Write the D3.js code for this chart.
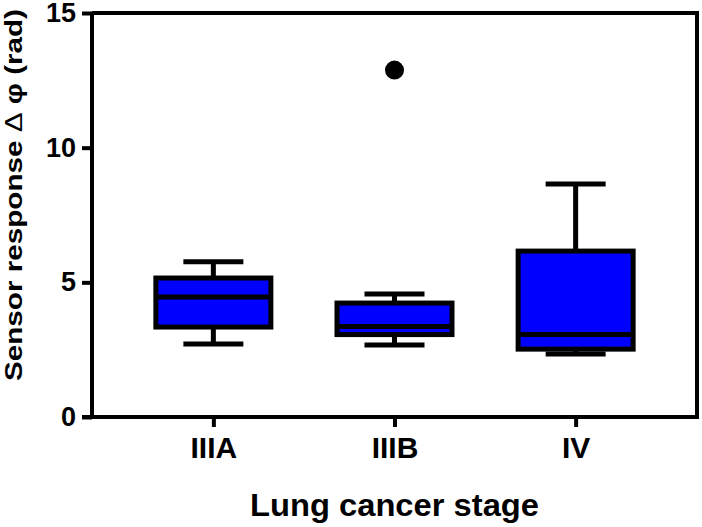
<!DOCTYPE html>
<html>
<head>
<meta charset="utf-8">
<script src="https://cdn.jsdelivr.net/npm/d3@7"></script>
<style>
  html, body { margin: 0; padding: 0; background: #fff; }
  text { font-family: "Liberation Sans", Arial, sans-serif; font-weight: bold; fill: #000; }
</style>
</head>
<body>
<div id="wrapper"></div>
<script>
'use strict';

//#region DATASET
const stages = ['IIIA', 'IIIB', 'IV'];
const whiskerLow = [2.71, 2.67, 2.34];
const quartile1 = [3.34, 3.06, 2.52];
const medians = [4.46, 3.36, 3.06];
const quartile3 = [5.16, 4.23, 6.16];
const whiskerHigh = [5.76, 4.57, 8.65];
const outlierStages = ['IIIB'];
const outlierValues = [12.88];
const yTicks = [0, 5, 10, 15];

const boxes = stages.map((s, i) => ({
  stage: s,
  low: whiskerLow[i],
  q1: quartile1[i],
  median: medians[i],
  q3: quartile3[i],
  high: whiskerHigh[i]
}));
const outliers = outlierStages.map((s, i) => ({ stage: s, value: outlierValues[i] }));
//#endregion DATASET

//#region CHART DIMENSIONS
const dimensions = {
  width: 702,
  height: 527,
  margin: { top: 13, right: 5, bottom: 110, left: 92 }
};
dimensions.plotWidth = dimensions.width - dimensions.margin.left - dimensions.margin.right;
dimensions.plotHeight = dimensions.height - dimensions.margin.top - dimensions.margin.bottom;
//#endregion CHART DIMENSIONS

//#region DRAW CANVAS
const wrapper = d3.select('#wrapper').append('svg')
  .attr('width', dimensions.width)
  .attr('height', dimensions.height);

const plot = wrapper.append('g')
  .attr('transform', `translate(${dimensions.margin.left}, ${dimensions.margin.top})`);
//#endregion DRAW CANVAS

//#region CREATE SCALES
const xScale = d3.scalePoint()
  .domain(stages)
  .range([0, dimensions.plotWidth])
  .padding(0.67);

const yScale = d3.scaleLinear()
  .domain([0, 15])
  .range([dimensions.plotHeight, 0]);
//#endregion CREATE SCALES

//#region DRAW DATA
const boxWidth = 115;
const capWidth = 60;
const strokeW = 5;

const boxGroups = plot.append('g').selectAll('g').data(boxes)
  .enter()
  .append('g')
  .attr('transform', d => `translate(${xScale(d.stage)}, 0)`);

boxGroups.append('line')
  .attr('x1', 0).attr('x2', 0)
  .attr('y1', d => yScale(d.low))
  .attr('y2', d => yScale(d.high))
  .attr('stroke', '#000')
  .attr('stroke-width', strokeW);

boxGroups.append('line')
  .attr('x1', -capWidth / 2).attr('x2', capWidth / 2)
  .attr('y1', d => yScale(d.high))
  .attr('y2', d => yScale(d.high))
  .attr('stroke', '#000')
  .attr('stroke-width', strokeW);

boxGroups.append('line')
  .attr('x1', -capWidth / 2).attr('x2', capWidth / 2)
  .attr('y1', d => yScale(d.low))
  .attr('y2', d => yScale(d.low))
  .attr('stroke', '#000')
  .attr('stroke-width', strokeW);

boxGroups.append('rect')
  .attr('x', -boxWidth / 2)
  .attr('width', boxWidth)
  .attr('y', d => yScale(d.q3))
  .attr('height', d => yScale(d.q1) - yScale(d.q3))
  .attr('fill', '#0000ff')
  .attr('stroke', '#000')
  .attr('stroke-width', strokeW);

boxGroups.append('line')
  .attr('x1', -boxWidth / 2).attr('x2', boxWidth / 2)
  .attr('y1', d => yScale(d.median))
  .attr('y2', d => yScale(d.median))
  .attr('stroke', '#000')
  .attr('stroke-width', strokeW);

plot.append('g').selectAll('circle').data(outliers)
  .enter()
  .append('circle')
  .attr('cx', d => xScale(d.stage))
  .attr('cy', d => yScale(d.value))
  .attr('r', 9.5)
  .attr('fill', '#000');
//#endregion DRAW DATA

//#region DRAW PERIPHERALS
const axisW = 4;

// frame top / right
plot.append('path')
  .attr('d', `M0,0H${dimensions.plotWidth}V${dimensions.plotHeight}`)
  .attr('fill', 'none')
  .attr('stroke', '#000')
  .attr('stroke-width', axisW);

const yAxis = plot.append('g')
  .call(d3.axisLeft(yScale).tickValues(yTicks).tickSize(10).tickPadding(6).tickSizeOuter(0));

const xAxis = plot.append('g')
  .attr('transform', `translate(0, ${dimensions.plotHeight})`)
  .call(d3.axisBottom(xScale).tickSize(10).tickPadding(10).tickSizeOuter(0));

[xAxis, yAxis].forEach(ax => {
  ax.select('.domain').attr('stroke-width', axisW);
  ax.selectAll('.tick line').attr('stroke-width', axisW);
});
yAxis.selectAll('text').style('font-size', '27px');
xAxis.selectAll('text').style('font-size', '30px');
yAxis.select('.domain').attr('d', `M0,${dimensions.plotHeight + axisW / 2}V0`);
xAxis.select('.domain').attr('d', `M${-10},0H${dimensions.plotWidth + axisW / 2}`);

const yLabel = wrapper.append('text')
  .attr('transform', `translate(22, 195) rotate(-90)`)
  .attr('text-anchor', 'middle')
  .attr('textLength', 372)
  .attr('lengthAdjust', 'spacingAndGlyphs')
  .style('font-size', '23px');
yLabel.append('tspan').text('Sensor response ');
yLabel.append('tspan').style('font-weight', 'normal').text('\u0394');
yLabel.append('tspan').text(' \u03c6 (rad)');

wrapper.append('text')
  .attr('x', dimensions.margin.left + xScale('IIIB'))
  .attr('y', 516)
  .attr('text-anchor', 'middle')
  .attr('textLength', 289)
  .attr('lengthAdjust', 'spacingAndGlyphs')
  .style('font-size', '31px')
  .text('Lung cancer stage');
//#endregion
</script>
</body>
</html>
